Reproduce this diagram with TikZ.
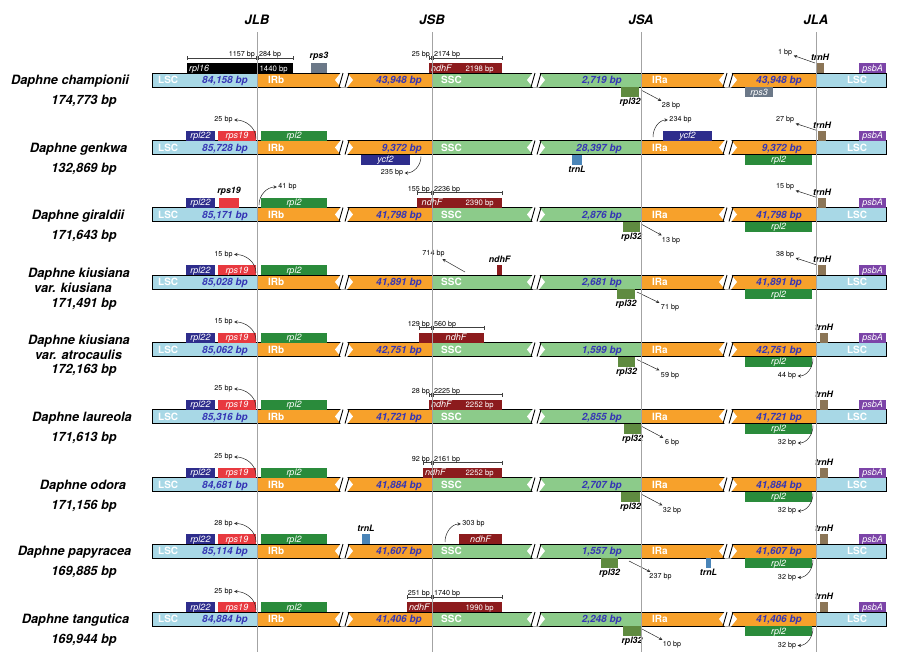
\documentclass[tikz,border=0pt]{standalone}
\usepackage{fontspec}
\setmainfont{TeX Gyre Heros}
\usepackage{tikz}
\usetikzlibrary{shapes,arrows}
\usepackage{color}

\definecolor{lscblue}{HTML}{A8D8E6}
\definecolor{irorange}{HTML}{F7A12B}
\definecolor{sscgreen}{HTML}{8CCB8A}
\definecolor{countblue}{HTML}{3535B5}
\definecolor{rplnavy}{HTML}{2E2D8C}
\definecolor{rpsred}{HTML}{E8393F}
\definecolor{rpltwo}{HTML}{2A8B3B}
\definecolor{trnlblue}{HTML}{4A85B8}
\definecolor{trnhbrown}{HTML}{8B7556}
\definecolor{psbapurple}{HTML}{7C44A8}
\definecolor{rpsgray}{HTML}{6B7888}
\definecolor{ndhfred}{HTML}{8C1B1D}
\definecolor{rplolive}{HTML}{5F8B40}
\definecolor{jgray}{HTML}{A3A3A3}

\tikzset{
  region/.style={font=\fontsize{10}{12}\selectfont\bfseries, text=white, inner sep=0pt},
  bpcount/.style={font=\fontsize{10}{12}\selectfont\bfseries\itshape, text=countblue, inner sep=0pt, anchor=base east},
  species/.style={font=\fontsize{12.8}{15}\selectfont\bfseries\itshape, inner sep=0pt, anchor=base},
  header/.style={font=\fontsize{13}{15}\selectfont\bfseries\itshape, inner sep=0pt, anchor=base},
  genein/.style={font=\fontsize{9}{10}\selectfont\itshape, text=white, inner sep=0pt, anchor=base},
  genelen/.style={font=\fontsize{7.8}{9}\selectfont, text=white, inner sep=0pt, anchor=base east},
  geneout/.style={font=\fontsize{8.8}{10}\selectfont\bfseries\itshape, inner sep=1pt},
  bplabel/.style={font=\fontsize{7.2}{8}\selectfont, inner sep=1.5pt},
  bparrow/.style={-stealth, line width=0.5pt, black!85},
  scaleline/.style={line width=0.5pt, black!75},
  junctionline/.style={draw=jgray, line width=1pt},
  outline/.style={line width=0.9pt},
}

% one genome bar: #1 id, #2 row centre, #3 LSC, #4 IRb, #5 SSC, #6 IRa
\newcommand\drawgenome[6]{%
  \fill[lscblue]  (152,#2-7) rectangle (257,#2+7);
  \fill[irorange] (257,#2-7) rectangle (432,#2+7);
  \fill[sscgreen] (432,#2-7) rectangle (641,#2+7);
  \fill[irorange] (641,#2-7) rectangle (816,#2+7);
  \fill[lscblue]  (816,#2-7) rectangle (886,#2+7);
  \draw[outline] (152,#2-7) rectangle (886,#2+7);
  \foreach \bx in {344,536,728} {
    \fill[white] (\bx-9,#2) -- (\bx-3,#2-7.6) -- (\bx+3,#2-7.6) -- (\bx+9,#2)
      -- (\bx+3,#2+7.6) -- (\bx-3,#2+7.6) -- cycle;
    \draw[outline] (\bx-5,#2+7) -- (\bx-1,#2-7) (\bx+1,#2+7) -- (\bx+5,#2-7);
  }
  \node[region, anchor=base west] (#1lsc) at (158,#2+3.6) {LSC};
  \node[bpcount] (#1lscbp) at (248,#2+3.6) {#3};
  \node[region, anchor=base west] (#1irb) at (268,#2+3.6) {IRb};
  \node[bpcount] (#1irbbp) at (422,#2+3.6) {#4};
  \node[region, anchor=base west] (#1ssc) at (441,#2+3.6) {SSC};
  \node[bpcount] (#1sscbp) at (622,#2+3.6) {#5};
  \node[region, anchor=base west] (#1ira) at (652,#2+3.6) {IRa};
  \node[bpcount] (#1irabp) at (802,#2+3.6) {#6};
  \node[region, anchor=base] (#1lsca) at (857,#2+3.6) {LSC};
}

% gene box: #1 name, #2 x1, #3 x2, #4 top, #5 colour, #6 label
\newcommand\genebox[6]{%
  \fill[#5] (#2,#4) rectangle (#3,#4+10);
  \node[genein] (#1) at ({(#2+#3)/2},#4+8.2) {#6};}

% length bar cut by a junction: #1 id, #2 y, #3 x1, #4 x2, #5 junction, #6 left, #7 right
\newcommand\lenbar[7]{%
  \draw[scaleline] (#3,#2) -- (#4,#2) (#3,#2-2) -- (#3,#2+2) (#4,#2-2) -- (#4,#2+2)
    (#5-1,#2-2) -- (#5-1,#2+2) (#5+1,#2-2) -- (#5+1,#2+2);
  \node[bplabel, anchor=base east] (#1l) at (#5-0.5,#2-1.5) {#6};
  \node[bplabel, anchor=base west] (#1r) at (#5+0.5,#2-1.5) {#7};}

\begin{document}
\begin{tikzpicture}[x=1pt,y=-1pt]
  \useasboundingbox (0,0) rectangle (919,670);

  % bars
  \drawgenome{ch}{80}{84,158 bp}{43,948 bp}{2,719 bp}{43,948 bp}
  \drawgenome{ge}{147.5}{85,728 bp}{9,372 bp}{28,397 bp}{9,372 bp}
  \drawgenome{gi}{214.5}{85,171 bp}{41,798 bp}{2,876 bp}{41,798 bp}
  \drawgenome{ki}{282}{85,028 bp}{41,891 bp}{2,681 bp}{41,891 bp}
  \drawgenome{at}{349.5}{85,062 bp}{42,751 bp}{1,599 bp}{42,751 bp}
  \drawgenome{la}{416.5}{85,316 bp}{41,721 bp}{2,855 bp}{41,721 bp}
  \drawgenome{od}{484.5}{84,681 bp}{41,884 bp}{2,707 bp}{41,884 bp}
  \drawgenome{pa}{551}{85,114 bp}{41,607 bp}{1,557 bp}{41,607 bp}
  \drawgenome{ta}{619}{84,884 bp}{41,406 bp}{2,248 bp}{41,406 bp}

  % species
  \node[species] (chname) at (70,84.6) {Daphne championii};
  \node[species] (chsize) at (84,104.6) {174,773 bp};
  \node[species] (gename) at (78.5,152.1) {Daphne genkwa};
  \node[species] (gesize) at (84,172.1) {132,869 bp};
  \node[species] (giname) at (78,219.1) {Daphne giraldii};
  \node[species] (gisize) at (84,239.1) {171,643 bp};
  \node[species] (kiname) at (79,277.6) {Daphne kiusiana};
  \node[species] (kivar) at (73,292.6) {var. kiusiana};
  \node[species] (kisize) at (84,307.6) {171,491 bp};
  \node[species] (atname) at (79,344.6) {Daphne kiusiana};
  \node[species] (atvar) at (78.5,359.6) {var. atrocaulis};
  \node[species] (atsize) at (84,373.6) {172,163 bp};
  \node[species] (laname) at (82,421.1) {Daphne laureola};
  \node[species] (lasize) at (84,441.1) {171,613 bp};
  \node[species] (odname) at (83,489.1) {Daphne odora};
  \node[species] (odsize) at (84,509.1) {171,156 bp};
  \node[species] (paname) at (74.5,555.6) {Daphne papyracea};
  \node[species] (pasize) at (84,575.6) {169,885 bp};
  \node[species] (taname) at (75.5,623.6) {Daphne tangutica};
  \node[species] (tasize) at (84,643.6) {169,944 bp};

  % genes in every row
  \foreach \rowy/\id/\tx in {80/ch/816,147.5/ge/818,214.5/gi/818,282/ki/818,349.5/at/820,
      416.5/la/820,484.5/od/820,551/pa/820,619/ta/820} {
    \genebox{\id trnh}{\tx}{\tx+8}{\rowy-17}{trnhbrown}{}
    \node[geneout, anchor=south] (\id trnhl) at (\tx+4,\rowy-18) {trnH};
    \genebox{\id psba}{859}{886}{\rowy-17}{psbapurple}{psbA}
  }
  \foreach \rowy/\id in {147.5/ge,214.5/gi,282/ki,349.5/at,416.5/la,484.5/od,551/pa,619/ta} {
    \genebox{\id rpltt}{186}{215}{\rowy-17}{rplnavy}{rpl22}
    \genebox{\id rpltwo}{261}{327}{\rowy-17}{rpltwo}{rpl2}
    \genebox{\id rpltwob}{745}{812}{\rowy+7}{rpltwo}{rpl2}
  }

  % JLB: rps19
  \foreach \rowy/\id/\bp in {147.5/ge/25,282/ki/15,349.5/at/15,416.5/la/25,484.5/od/25,551/pa/28,619/ta/25} {
    \genebox{\id rps}{218}{256}{\rowy-17}{rpsred}{rps19}
    \coordinate (\id jlb) at (256,\rowy-9);
    \node[bplabel] (\id jlbbp) at (223.5,\rowy-27.5) {\bp\ bp};
    \draw[bparrow] (\id jlb) to[out=90,in=0] (\id jlbbp);
  }

  % JSA: rpl32
  \foreach \rowy/\id/\xa/\xb/\ax/\tx/\bp in {80/ch/621/639/641/671/28,214.5/gi/623/640/642/671/13,
      282/ki/617/635/637/670/71,349.5/at/618/635/637/670/59,416.5/la/624/641/642/672/6,
      484.5/od/621/640/642/672/32,551/pa/601/618/629/660.5/237,619/ta/623/641/642/672/10} {
    \genebox{\id rplf}{\xa}{\xb}{\rowy+7}{rplolive}{}
    \node[geneout, anchor=north] (\id rplfl) at ({(\xa+\xb)/2},\rowy+17) {rpl32};
    \coordinate (\id jsa) at (\ax,\rowy+10);
    \node[bplabel] (\id jsabp) at (\tx,\rowy+26) {\bp\ bp};
    \draw[bparrow] (\id jsa) -- (\id jsabp);
  }

  % JLA: trnH and rpl2
  \foreach \rowy/\id/\tx/\bp in {80/ch/816/1,147.5/ge/818/27,214.5/gi/818/15,282/ki/818/38} {
    \coordinate (\id jla) at (\tx-1,\rowy-17);
    \node[bplabel] (\id jlabp) at (785,\rowy-27.5) {\bp\ bp};
    \draw[bparrow] (\id jla) -- (\id jlabp);
  }
  \foreach \rowy/\id/\bp in {349.5/at/44,416.5/la/32,484.5/od/32,551/pa/32,619/ta/32} {
    \coordinate (\id jlb2) at (813,\rowy+9);
    \node[bplabel] (\id jlb2bp) at (787,\rowy+26.5) {\bp\ bp};
    \draw[bparrow] (\id jlb2) to[out=-90,in=0] (\id jlb2bp);
  }

  % D. championii
  \genebox{chrpl}{187}{293}{63}{black}{}
  \node[genein, anchor=base west] (chrpln) at (189,71.2) {rpl16};
  \lenbar{chsa}{58}{187}{293}{257}{1157 bp}{284 bp}
  \genebox{chrps}{311}{327}{63}{rpsgray}{}
  \node[geneout, anchor=south] (chrpsl) at (319,62) {rps3};
  \genebox{chndh}{429}{502}{63}{ndhfred}{}
  \node[genein, anchor=base west] (chndhn) at (431,71.2) {ndhF};
  \node[genelen] (chndhlen) at (494,71.2) {2198 bp};
  \lenbar{chsb}{58}{429}{502}{432}{25 bp}{2174 bp}
  \genebox{chrpsb}{745}{773}{87}{rpsgray}{rps3}

  % D. genkwa
  \genebox{geycf}{361}{410}{154.5}{rplnavy}{ycf2}
  \coordinate (gejsb) at (421,156.5);
  \node[bplabel] (gejsbbp) at (392,173) {235 bp};
  \draw[bparrow] (gejsb) to[out=-90,in=0] (gejsbbp);
  \genebox{getrnl}{572}{582}{154.5}{trnlblue}{}
  \node[geneout, anchor=north] (getrnll) at (577,164.5) {trnL};
  \genebox{geycfb}{663}{712}{130.5}{rplnavy}{ycf2}
  \coordinate (gejsa) at (653,137);
  \node[bplabel] (gejsabp) at (680.5,120) {234 bp};
  \draw[bparrow] (gejsa) to[out=90,in=180] (gejsabp);

  % D. giraldii
  \genebox{girps}{219}{239}{197.5}{rpsred}{}
  \node[geneout, anchor=south] (girpsl) at (229,196.5) {rps19};
  \coordinate (gijlb) at (259,205);
  \node[bplabel] (gijlbbp) at (287.5,187) {41 bp};
  \draw[bparrow] (gijlb) to[out=90,in=180] (gijlbbp);
  \genebox{gindh}{417}{502}{197.5}{ndhfred}{}
  \node[genein] (gindhn) at (432,205.7) {ndhF};
  \node[genelen] (gindhlen) at (494,205.7) {2390 bp};
  \lenbar{gisb}{192.5}{417}{502}{432}{155 bp}{2236 bp}

  % D. kiusiana var. kiusiana
  \coordinate (kissc) at (465,272);
  \node[bplabel] (kisscbp) at (433.5,254) {714 bp};
  \draw[bparrow] (kissc) -- (kisscbp);
  \genebox{kindh}{497}{502}{265}{ndhfred}{}
  \node[geneout, anchor=south] (kindhl) at (499.5,264) {ndhF};

  % D. kiusiana var. atrocaulis
  \genebox{atndh}{419}{484}{332.5}{ndhfred}{}
  \node[genein] (atndhn) at (456,340.7) {ndhF};
  \lenbar{atsb}{327.5}{419}{484}{432}{129 bp}{560 bp}

  % D. laureola
  \genebox{landh}{429}{502}{399.5}{ndhfred}{}
  \node[genein, anchor=base west] (landhn) at (431,407.7) {ndhF};
  \node[genelen] (landhlen) at (494,407.7) {2252 bp};
  \lenbar{lasb}{394.5}{429}{502}{432}{28 bp}{2225 bp}

  % D. odora
  \genebox{odndh}{423}{502}{467.5}{ndhfred}{}
  \node[genein, anchor=base west] (odndhn) at (425,475.7) {ndhF};
  \node[genelen] (odndhlen) at (494,475.7) {2252 bp};
  \lenbar{odsb}{462.5}{423}{502}{432}{92 bp}{2161 bp}

  % D. papyracea
  \genebox{patrnl}{362}{370}{534}{trnlblue}{}
  \node[geneout, anchor=south] (patrnll) at (366,533) {trnL};
  \coordinate (pajsb) at (445,542);
  \node[bplabel] (pajsbbp) at (473.5,524) {303 bp};
  \draw[bparrow] (pajsb) to[out=90,in=180] (pajsbbp);
  \genebox{pandh}{459}{502}{534}{ndhfred}{ndhF}
  \genebox{patrnlb}{706}{711}{558}{trnlblue}{}
  \node[geneout, anchor=north] (patrnlbl) at (708.5,568) {trnL};

  % D. tangutica
  \genebox{tandh}{407}{502}{602}{ndhfred}{}
  \node[genein, anchor=base west] (tandhn) at (409,610.2) {ndhF};
  \node[genelen] (tandhlen) at (494,610.2) {1990 bp};
  \lenbar{tasb}{597}{407}{502}{432}{251 bp}{1740 bp}

  % junctions
  \foreach \x/\j in {257/JLB,432/JSB,641/JSA,816/JLA} {
    \node[header] (\j) at (\x,24) {\j};
    \draw[junctionline] (\x,32) -- (\x,652);
  }
  \node[genelen] (chrpllen) at (288,71.2) {1440 bp};
\end{tikzpicture}
\end{document}
